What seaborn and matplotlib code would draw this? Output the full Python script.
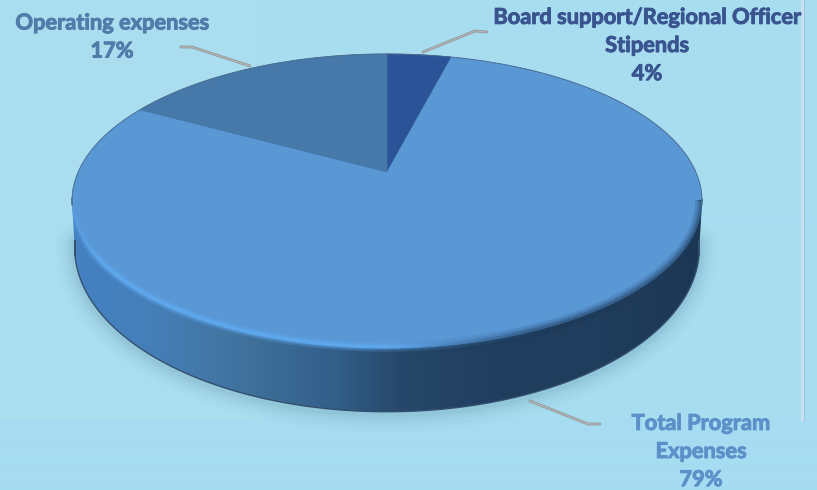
import numpy as np
import seaborn as sns
import matplotlib
matplotlib.use("Agg")
import matplotlib.pyplot as plt
import matplotlib.patheffects as pe
from matplotlib.collections import LineCollection
from matplotlib.path import Path
from matplotlib.transforms import Affine2D, Transform

# Budget shares, clockwise from twelve o'clock
categories = ["Board support/Regional Officer\nStipends", "Total Program\nExpenses", "Operating expenses"]
shares = [4, 79, 17]
slice_colors = ["#2b5397", "#5997d5", "#4679aa"]
label_colors = ["#3a5490", "#5c90c9", "#4f7ca9"]
label_anchor = [(647, 45.5), (701, 451.5), (112, 37)]
leaders = [
    [(423, 52), (475, 31), (487, 32)],
    [(530, 401), (588, 424), (600, 424)],
    [(181, 47), (192, 47), (250, 66)],
]

WIDTH, HEIGHT = 817, 490
BACKGROUND = "#a7dcf0"


class TiltedPlane(Transform):
    """Projects the unit circle of a pie onto a plane receding from the viewer."""
    input_dims = output_dims = 2
    is_separable = False
    has_inverse = False

    def __init__(self, cx, cy, a, b, k):
        super().__init__()
        self.cx, self.cy, self.a, self.b, self.k = cx, cy, a, b, k

    def transform_non_affine(self, values):
        values = np.asarray(values, dtype=float)
        depth = 1 + self.k * values[:, 1]
        return np.column_stack([self.cx + self.a * values[:, 0] / depth,
                                self.cy - self.b * values[:, 1] / depth])

    def transform_path_non_affine(self, path):
        scale = 500.0
        polygon = path.to_polygons(Affine2D().scale(scale), closed_only=True)[0] / scale
        return Path(self.transform_non_affine(polygon), closed=True)


top_plane = TiltedPlane(387, 172, 308.8, 141.3, 0.197)
base_plane = TiltedPlane(387, 215, 306.0, 157.4, 0.2)

sns.set_theme(style="white", rc={"figure.dpi": 100, "savefig.dpi": 100})
plt.rcParams["font.family"] = ["Lato", "DejaVu Sans"]

fig = plt.figure(figsize=(WIDTH / 100, HEIGHT / 100), facecolor=BACKGROUND)
ax = fig.add_axes([0, 0, 1, 1])

# Top face of the disc
wedges, _ = ax.pie(shares, colors=slice_colors, startangle=90, counterclock=False,
                   wedgeprops={"linewidth": 0.4})
for wedge, color in zip(wedges, slice_colors):
    wedge.set_transform(top_plane + ax.transData)
    wedge.set_edgecolor(color)
    wedge.set_zorder(5)

theta = np.linspace(0, 2 * np.pi, 721)
circle = np.column_stack([np.cos(theta), np.sin(theta)])
top_rim = top_plane.transform_non_affine(circle)
base_rim = base_plane.transform_non_affine(circle)

# Faint backdrop panels
bg = np.ones((HEIGHT, WIDTH, 3)) * np.array([167, 220, 240]) / 255
bg[:420, :260] = np.array([170, 222, 239]) / 255
bg[:420, 260:] = np.array([168, 221, 240]) / 255
bg[420:] = np.array([166, 220, 241]) / 255
ax.imshow(bg, extent=(0, WIDTH, HEIGHT, 0), aspect="auto", zorder=0)
ax.plot([802, 802], [0, 420], color="#c9deef", lw=2.2, zorder=1)
ax.plot([804, 804], [0, 420], color="#9fc4d8", lw=0.7, zorder=1)

# Soft shadow beneath the disc
lower = base_rim[base_rim[:, 1] > 240]
lower = lower[np.argsort(lower[:, 0])]
for lw, alpha in zip([26, 20, 14, 9, 5], [0.025, 0.03, 0.04, 0.05, 0.06]):
    ax.plot(lower[:, 0], lower[:, 1] + 2, color="#3f6f88", lw=lw, alpha=alpha,
            solid_capstyle="round", zorder=2)

# Outline of the whole disc, used to keep the rim shading inside it
back = top_rim[top_rim[:, 1] < 206]
back = back[np.argsort(back[:, 0])]
silhouette = Path(np.vstack([back, lower[::-1], back[:1]]), closed=True)

# Side wall, shaded from the lit left edge to the dark right edge
stop_x = [70, 95, 140, 200, 253, 330, 400, 500, 600, 700]
stop_rgb = np.array([
    [70, 130, 195], [68, 128, 192], [70, 128, 187], [67, 121, 170], [62, 112, 154],
    [51, 96, 138], [39, 72, 106], [32, 62, 95], [32, 61, 93], [28, 55, 84],
]) / 255
xs = np.arange(WIDTH) + 0.5
wall = np.stack([np.interp(xs, stop_x, stop_rgb[:, i]) for i in range(3)], axis=-1)
wall = np.repeat(wall[np.newaxis, :, :], HEIGHT, axis=0)
image = ax.imshow(wall, extent=(0, WIDTH, HEIGHT, 0), aspect="auto", zorder=3)
image.set_clip_path(silhouette, transform=ax.transData)
ax.plot(lower[:, 0], lower[:, 1], color="#33506e", lw=1.0, zorder=4)

# Rim: lit band on the left and front, soft dark falloff on the right
front = top_rim[top_rim[:, 1] >= 200]
front = front[np.argsort(front[:, 0])]
segments = np.stack([front[:-1], front[1:]], axis=1)
mid_x = segments[:, :, 0].mean(axis=1)
glow = np.clip((560 - mid_x) / 60, 0, 1) * np.clip((mid_x - 70) / 30, 0.35, 1)
for lw, alpha in zip([7, 4.5, 2.5], [0.22, 0.35, 0.55]):
    colors = np.zeros((len(mid_x), 4))
    colors[:, :3] = matplotlib.colors.to_rgb("#62adf4")
    colors[:, 3] = glow * alpha * np.clip((430 - mid_x) / 200 + 0.65, 0.35, 1)
    band = LineCollection(segments - [0, 1], colors=colors, linewidths=lw, zorder=6)
    ax.add_collection(band)
    band.set_clip_path(silhouette, transform=ax.transData)
shade = np.clip((mid_x - 400) / 130, 0, 1)
for lw, alpha in zip([10, 6.5, 3.5], [0.14, 0.22, 0.35]):
    colors = np.zeros((len(mid_x), 4))
    colors[:, :3] = matplotlib.colors.to_rgb("#1e3a58")
    colors[:, 3] = shade * alpha
    band = LineCollection(segments, colors=colors, linewidths=lw, zorder=6)
    ax.add_collection(band)
    band.set_clip_path(silhouette, transform=ax.transData)

# Thin outline along the far edge of the disc
ax.plot(back[:, 0], back[:, 1], color="#4c6d8c", lw=0.7, alpha=0.85, zorder=7)

# Leader lines and labels
for points, label, share, color, (x, y) in zip(leaders, categories, shares, label_colors, label_anchor):
    px, py = zip(*points)
    ax.plot(px, py, color="#8d9296", lw=2.0, solid_capstyle="round", zorder=8)
    ax.plot(px, py, color="#b4b4b4", lw=1.0, solid_capstyle="round", zorder=8)
    ax.text(x, y, f"{label}\n{share}%", ha="center", va="center", color=color,
            fontsize=15.7, fontweight="bold", linespacing=1.42, zorder=9,
            path_effects=[pe.withStroke(linewidth=0.7, foreground=color)])

ax.set_xlim(0, WIDTH)
ax.set_ylim(HEIGHT, 0)
ax.set_aspect("auto")
ax.axis("off")

fig.savefig("out.png", dpi=100, facecolor=BACKGROUND)
